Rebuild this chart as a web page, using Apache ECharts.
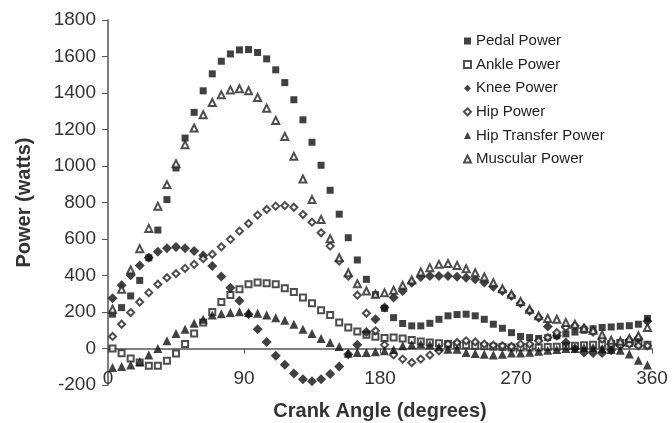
<!DOCTYPE html>
<html>
<head>
<meta charset="utf-8">
<script src="https://cdn.jsdelivr.net/npm/echarts@6/dist/echarts.min.js"></script>
<style>
html,body{margin:0;padding:0;background:#fff;}
#chart{width:672px;height:423px;}
</style>
</head>
<body>
<div id="chart"></div>
<script>
var angles = [3,9,15,21,27,33,39,45,51,57,63,69,75,81,87,93,99,105,111,117,123,129,135,141,147,153,159,165,171,177,183,189,195,201,207,213,219,225,231,237,243,249,255,261,267,273,279,285,291,297,303,309,315,321,327,333,339,345,351,357];

var pedalPower = [188,224,288,373,497,649,816,989,1153,1294,1412,1505,1574,1614,1636,1638,1622,1587,1527,1457,1363,1253,1130,1004,867,736,607,485,379,295,220,169,137,124,124,138,160,179,186,188,179,160,133,111,87,66,60,55,60,70,80,90,100,108,115,118,122,125,133,165];
var anklePower = [0,-26,-55,-77,-95,-95,-67,-27,24,82,142,200,255,293,324,352,361,357,352,330,310,279,248,210,184,142,115,93,75,64,57,60,55,47,38,33,29,24,20,18,15,12,10,8,5,5,5,5,8,10,12,15,18,20,22,25,30,30,28,20];
var kneePower = [275,346,401,455,497,530,550,556,550,534,510,452,394,333,261,188,106,36,-40,-89,-137,-168,-180,-168,-140,-98,-31,20,91,160,224,279,315,360,392,397,397,397,393,388,379,361,339,315,288,248,206,169,120,70,33,0,-22,-25,-25,-10,20,45,55,150];
var hipPower = [66,133,197,255,306,352,388,410,439,461,492,516,557,598,643,685,731,762,780,783,774,734,692,634,561,479,397,292,193,97,20,-35,-58,-77,-58,-36,-13,24,33,42,36,24,18,15,11,24,24,42,60,87,115,124,111,90,51,24,15,24,15,15];
var hipTransferPower = [-104,-98,-91,-73,-35,0,42,82,106,138,160,184,191,197,202,197,193,184,169,155,133,106,82,55,33,11,-26,-22,-22,-18,-13,-5,15,20,24,20,10,-4,-4,-22,-27,-31,-35,-31,-25,-25,-20,-15,-10,-5,0,0,5,5,0,-5,-10,-30,-65,-90];
var muscularPower = [215,324,430,547,658,780,898,1013,1117,1208,1281,1348,1390,1417,1423,1412,1376,1317,1250,1162,1053,929,816,707,601,497,415,355,315,297,305,319,346,375,419,443,461,466,455,437,415,392,361,328,297,258,215,179,164,160,142,133,111,100,75,45,40,55,70,115];

var seriesNames = ['Pedal Power','Ankle Power','Knee Power','Hip Power','Hip Transfer Power','Muscular Power'];
var yTicks = {min:-200, max:1800, interval:200};
var xTicks = {min:0, max:360, interval:90};

function pairs(vals){ return angles.map(function(a,i){ return [a, vals[i]]; }); }

var seriesDefs = [
  {name: seriesNames[0], data: pedalPower, symbol: 'rect', size: 7, color: '#111'},
  {name: seriesNames[1], data: anklePower, symbol: 'emptyRect', size: 6, color: '#222'},
  {name: seriesNames[2], data: kneePower, symbol: 'diamond', size: 10, color: '#111'},
  {name: seriesNames[3], data: hipPower, symbol: 'emptyDiamond', size: 7, color: '#222'},
  {name: seriesNames[4], data: hipTransferPower, symbol: 'triangle', size: 9, color: '#111'},
  {name: seriesNames[5], data: muscularPower, symbol: 'emptyTriangle', size: 7, color: '#222'}
];

var chart = echarts.init(document.getElementById('chart'), null, {renderer:'canvas'});
var font = 'Liberation Sans, Arial, sans-serif';
chart.setOption({
  animation: false,
  backgroundColor: '#fff',
  grid: {left:108, right:20, top:20, bottom:38, containLabel:false, outerBoundsMode:'none'},
  legend: {
    orient: 'vertical',
    left: 458,
    top: 28,
    itemWidth: 7,
    itemHeight: 7,
    itemGap: 7.6,
    textStyle: {fontFamily: font, fontSize: 15, color: '#222', lineHeight: 16},
    data: seriesDefs.map(function(s){ return {name: s.name, icon: s.symbol}; })
  },
  xAxis: {
    type: 'value',
    position: 'bottom',
    offset: -36.5,
    min: xTicks.min, max: xTicks.max, interval: xTicks.interval,
    axisLine: {show: true, onZero: false, lineStyle: {color: '#555', width: 1.5}},
    axisTick: {show: true, length: 5, lineStyle: {color: '#555'}},
    axisLabel: {margin: 21, fontFamily: font, fontSize: 19, color: '#333'},
    splitLine: {show: false},
    name: 'Crank Angle (degrees)',
    nameLocation: 'middle',
    nameGap: 53,
    nameTextStyle: {fontFamily: font, fontSize: 20, fontWeight: 'bold', color: '#333'}
  },
  yAxis: {
    type: 'value',
    min: yTicks.min, max: yTicks.max, interval: yTicks.interval,
    axisLine: {show: true, onZero: false, lineStyle: {color: '#555', width: 1.5}},
    axisTick: {show: true, length: 6, lineStyle: {color: '#555'}},
    axisLabel: {margin: 12, fontFamily: font, fontSize: 19, color: '#333', formatter: function(v){ return String(v); }},
    splitLine: {show: false},
    name: 'Power (watts)',
    nameLocation: 'middle',
    nameGap: 74,
    nameTextStyle: {fontFamily: font, fontSize: 20, fontWeight: 'bold', color: '#333'}
  },
  series: seriesDefs.map(function(s){
    return {
      name: s.name,
      type: 'scatter',
      symbol: s.symbol,
      symbolSize: s.size,
      data: pairs(s.data),
      itemStyle: {color: s.color, borderWidth: s.symbol.indexOf('empty') === 0 ? 1 : 0},
      emphasis: {disabled: true}
    };
  })
});
</script>
</body>
</html>
